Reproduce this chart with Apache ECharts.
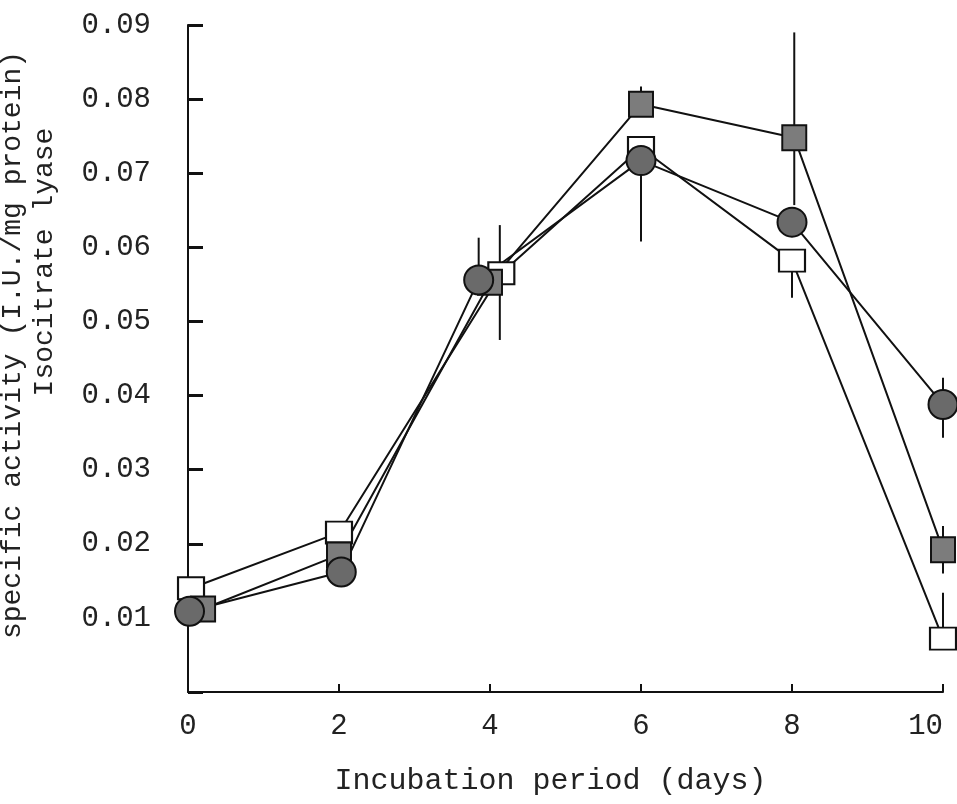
<!DOCTYPE html>
<html><head><meta charset="UTF-8">
<title>isocitrate lyase</title>
<style>html,body{margin:0;padding:0;background:#fff}#chart{width:957px;height:804px}</style>
<script src="https://cdn.jsdelivr.net/npm/echarts@6/dist/echarts.min.js"></script>
</head>
<body>
<div id="chart"></div>
<script>
// values
const xTicks = [0, 2, 4, 6, 8, 10];
const openX = [0.04, 2.0, 4.15, 6.0, 8.0, 10.0];
const openY = [0.0140, 0.0215, 0.0565, 0.0734, 0.0582, 0.0072];
const filledSqX = [0.2, 2.0, 4.0, 6.0, 8.03, 10.0];
const filledSqY = [0.0112, 0.0185, 0.0553, 0.0793, 0.0748, 0.0192];
const circleX = [0.02, 2.03, 3.85, 6.0, 8.0, 10.0];
const circleY = [0.0109, 0.0162, 0.0556, 0.0717, 0.0634, 0.0388];
// error bars: [x, low, high]
const errBars = [
  [0.0, 0.0140, 0.0165],
  [4.13, 0.0475, 0.0630],
  [8.0, 0.0532, 0.0582],
  [10.0, 0.0072, 0.0134],
  [6.0, 0.0793, 0.0817],
  [8.03, 0.0657, 0.0890],
  [10.0, 0.0160, 0.0224],
  [3.85, 0.0556, 0.0613],
  [6.0, 0.0608, 0.0717],
  [10.0, 0.0343, 0.0424]
];

const font = '"Liberation Mono", "DejaVu Sans Mono", monospace';
const chart = echarts.init(document.getElementById('chart'));

function pairs(xs, ys) { return xs.map((x, i) => [x, ys[i]]); }

const lineSeries = (name, xs, ys, symbol, size, fill) => ({
  name: name,
  type: 'line',
  data: pairs(xs, ys),
  symbol: symbol,
  symbolSize: size,
  showAllSymbol: true,
  clip: false,
  lineStyle: { color: '#111', width: 2 },
  itemStyle: { color: fill, borderColor: '#111', borderWidth: 2, opacity: 1 },
  emphasis: { disabled: true },
  z: 3
});

chart.setOption({
  animation: false,
  backgroundColor: '#fff',
  grid: { left: 188, right: 14, top: 25, bottom: 112, outerBoundsMode: 'none' },
  xAxis: {
    type: 'value', min: 0, max: 10, interval: 2,
    name: 'Incubation period (days)',
    nameLocation: 'middle', nameGap: 74,
    nameTextStyle: { fontFamily: font, fontSize: 30, color: '#222', padding: [0, 30, 0, 0] },
    axisLine: { lineStyle: { color: '#111', width: 2 } },
    axisTick: { inside: true, length: 8, lineStyle: { color: '#111', width: 2 } },
    axisLabel: { fontFamily: font, fontSize: 29, color: '#222', margin: 20,
      alignMaxLabel: 'right',
      formatter: v => xTicks.indexOf(v) >= 0 ? String(v) : '' },
    splitLine: { show: false }
  },
  yAxis: {
    type: 'value', min: 0, max: 0.09, interval: 0.01,
    axisLine: { show: true, lineStyle: { color: '#111', width: 2 } },
    axisTick: { show: true, inside: true, length: 15, lineStyle: { color: '#111', width: 3 } },
    axisLabel: { fontFamily: font, fontSize: 29, color: '#222', margin: 37,
      formatter: v => v === 0 ? '' : v.toFixed(2) },
    splitLine: { show: false }
  },
  graphic: [
    { type: 'text', x: 13, y: 345, rotation: Math.PI / 2,
      style: { text: 'specific activity (I.U./mg protein)', font: '28px ' + font, fill: '#222', align: 'center', verticalAlign: 'middle' } },
    { type: 'text', x: 45, y: 262, rotation: Math.PI / 2,
      style: { text: 'Isocitrate lyase', font: '28px ' + font, fill: '#222', align: 'center', verticalAlign: 'middle' } }
  ],
  series: [
    {
      type: 'custom',
      data: errBars,
      clip: false,
      renderItem: (params, api) => {
        const a = api.coord([api.value(0), api.value(1)]);
        const b = api.coord([api.value(0), api.value(2)]);
        return { type: 'line', shape: { x1: a[0], y1: a[1], x2: b[0], y2: b[1] },
          style: { stroke: '#111', lineWidth: 2 } };
      },
      z: 2
    },
    lineSeries('open', openX, openY, 'rect', [26, 22], '#fff'),
    lineSeries('filled square', filledSqX, filledSqY, 'rect', [24, 25], '#7c7c7c'),
    lineSeries('circle', circleX, circleY, 'circle', 29, '#6a6a6a')
  ]
});
</script>
</body></html>
